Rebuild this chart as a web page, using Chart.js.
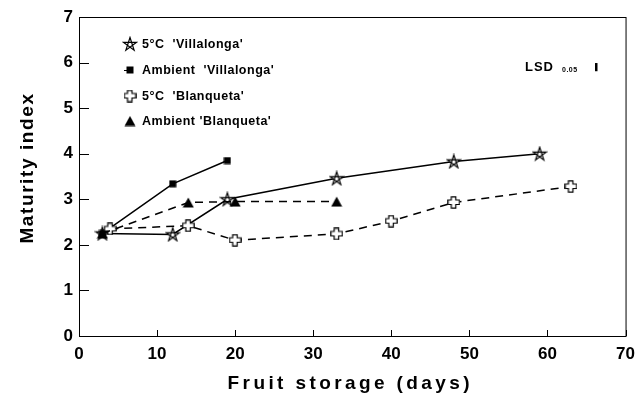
<!DOCTYPE html>
<html>
<head>
<meta charset="utf-8">
<script src="https://cdn.jsdelivr.net/npm/chart.js@4.4.1/dist/chart.umd.min.js"></script>
<style>
  html, body { margin: 0; padding: 0; background: #fff; }
  #wrap { width: 643px; height: 400px; position: relative; }
</style>
</head>
<body>
<div id="wrap"><canvas id="myChart"></canvas></div>
<script>
// data
var vil5Days = [3, 12, 19, 33, 48, 59];
var vil5Vals = [2.25, 2.23, 3.0, 3.46, 3.83, 4.0];
var vilAmbDays = [3, 12, 19];
var vilAmbVals = [2.25, 3.34, 3.85];
var bla5Days = [4, 14, 20, 33, 40, 48, 63];
var bla5Vals = [2.35, 2.42, 2.1, 2.24, 2.52, 2.93, 3.28];
var blaAmbDays = [3, 14, 20, 33];
var blaAmbVals = [2.25, 2.93, 2.95, 2.95];

var seriesLabels = ["5°C  'Villalonga'", "Ambient  'Villalonga'", "5°C  'Blanqueta'", "Ambient 'Blanqueta'"];
var xTicks = [0, 10, 20, 30, 40, 50, 60, 70];
var yTicks = [0, 1, 2, 3, 4, 5, 6, 7];
var lsdDay = 66.2, lsdAt = 5.9, lsdValue = 0.18;

var FONT = "'Liberation Sans', Arial, sans-serif";

function pts(xs, ys) {
  return xs.map(function (x, i) { return { x: x, y: ys[i] }; });
}

// marker images
function mk(w, h, draw) {
  var c = document.createElement('canvas');
  c.width = w; c.height = h;
  draw(c.getContext('2d'), w, h);
  return c;
}
var starImg = mk(16, 16, function (g) {
  var cx = 8, cy = 8.5, r = 7;
  g.beginPath();
  for (var i = 0; i < 5; i++) {
    var a = -Math.PI / 2 + i * 4 * Math.PI / 5;
    var px = cx + r * Math.cos(a), py = cy + r * Math.sin(a);
    if (i === 0) g.moveTo(px, py); else g.lineTo(px, py);
  }
  g.closePath();
  g.fillStyle = '#fff'; g.fill('nonzero');
  g.strokeStyle = '#000'; g.lineWidth = 1.2; g.stroke();
});
var squareImg = mk(8, 8, function (g) { g.fillStyle = '#000'; g.fillRect(0.5, 0.5, 7, 7); });
var triImg = mk(12, 11, function (g) {
  g.beginPath(); g.moveTo(6, 0.5); g.lineTo(11.5, 10.5); g.lineTo(0.5, 10.5); g.closePath();
  g.fillStyle = '#000'; g.fill();
});
var crossImg = mk(13, 13, function (g) {
  var a = 4, b = 8.5, e = 0.8, f = 12.2;
  g.beginPath();
  g.moveTo(a, e); g.lineTo(b, e); g.lineTo(b, a); g.lineTo(f, a); g.lineTo(f, b); g.lineTo(b, b);
  g.lineTo(b, f); g.lineTo(a, f); g.lineTo(a, b); g.lineTo(e, b); g.lineTo(e, a); g.lineTo(a, a);
  g.closePath();
  g.fillStyle = '#fff'; g.fill();
  g.strokeStyle = '#000'; g.lineWidth = 1.2; g.stroke();
});

var styles = [starImg, squareImg, crossImg, triImg];

// legend, LSD note, inward ticks, frame and letter-spaced axis titles
var extras = {
  id: 'extras',
  afterDraw: function (chart) {
    var ctx = chart.ctx, a = chart.chartArea;
    var xs = chart.scales.x, ys = chart.scales.y;
    ctx.save();
    ctx.strokeStyle = '#000';
    ctx.lineWidth = 1;
    ctx.strokeRect(a.left + 0.5, a.top + 0.5, a.right - a.left, a.bottom - a.top);
    ctx.beginPath();
    yTicks.forEach(function (v) {
      var y = Math.round(ys.getPixelForValue(v)) + 0.5;
      ctx.moveTo(a.left, y); ctx.lineTo(a.left + 10, y);
    });
    xTicks.forEach(function (v) {
      var x = Math.round(xs.getPixelForValue(v)) + 0.5;
      ctx.moveTo(x, a.bottom); ctx.lineTo(x, a.bottom - 6);
    });
    ctx.stroke();

    // legend
    var rows = [44, 70, 96, 121];
    ctx.fillStyle = '#000';
    ctx.font = 'bold 12.5px ' + FONT;
    ctx.textBaseline = 'middle';
    ctx.textAlign = 'left';
    ctx.letterSpacing = '0.5px';
    seriesLabels.forEach(function (t, i) {
      var img = styles[i];
      if (i === 1) {
        ctx.beginPath();
        ctx.moveTo(124, rows[i] + 0.5); ctx.lineTo(131, rows[i] + 0.5);
        ctx.stroke();
      }
      ctx.drawImage(img, 130 - img.width / 2, rows[i] - img.height / 2);
      ctx.fillText(t, 142, rows[i] + 1);
    });

    // LSD
    ctx.font = 'bold 13px ' + FONT;
    ctx.letterSpacing = '1px';
    ctx.fillText('LSD', 525, 67);
    ctx.font = 'bold 7px ' + FONT;
    ctx.letterSpacing = '0.5px';
    ctx.fillText('0.05', 562, 70);
    var bx = Math.round(xs.getPixelForValue(lsdDay));
    var y1 = ys.getPixelForValue(lsdAt + lsdValue / 2), y2 = ys.getPixelForValue(lsdAt - lsdValue / 2);
    ctx.fillRect(bx - 1, y1, 2.5, y2 - y1);

    // axis titles
    ctx.textAlign = 'center';
    ctx.font = 'bold 19px ' + FONT;
    ctx.letterSpacing = '3.4px';
    ctx.fillText('Fruit storage (days)', (a.left + a.right) / 2 - 2, 384);
    ctx.save();
    ctx.translate(28, 168);
    ctx.rotate(-Math.PI / 2);
    ctx.letterSpacing = '1.6px';
    ctx.fillText('Maturity index', 0, 0);
    ctx.restore();
    ctx.restore();
  }
};

function ds(label, xs, ys, style, dashed) {
  return {
    label: label,
    data: pts(xs, ys),
    borderColor: '#000',
    backgroundColor: '#000',
    borderWidth: 1.5,
    borderDash: dashed ? [8, 6] : [],
    pointStyle: style,
    pointRadius: 6,
    pointHoverRadius: 6,
    fill: false,
    tension: 0
  };
}

var ctx = document.getElementById('myChart').getContext('2d');
var myChart = new Chart(ctx, {
  type: 'line',
  data: {
    datasets: [
      ds(seriesLabels[3], blaAmbDays, blaAmbVals, triImg, true),
      ds(seriesLabels[2], bla5Days, bla5Vals, crossImg, true),
      ds(seriesLabels[1], vilAmbDays, vilAmbVals, squareImg, false),
      ds(seriesLabels[0], vil5Days, vil5Vals, starImg, false)
    ]
  },
  options: {
    responsive: true,
    maintainAspectRatio: false,
    animation: false,
    layout: { padding: { top: 17, right: 13, left: 0, bottom: 0 } },
    plugins: {
      legend: { display: false },
      tooltip: { enabled: false }
    },
    scales: {
      x: {
        type: 'linear',
        min: 0, max: 70,
        afterFit: function (s) { s.height = 64; },
        afterBuildTicks: function (s) { s.ticks = xTicks.map(function (v) { return { value: v }; }); },
        grid: { display: false, drawTicks: false },
        border: { display: false },
        ticks: { color: '#000', padding: 8, font: { family: FONT, size: 17, weight: 'bold' } }
      },
      y: {
        min: 0, max: 7,
        afterFit: function (s) { s.width = 79; },
        afterBuildTicks: function (s) { s.ticks = yTicks.map(function (v) { return { value: v }; }); },
        grid: { display: false, drawTicks: false },
        border: { display: false },
        ticks: { color: '#000', padding: 6, font: { family: FONT, size: 17, weight: 'bold' } }
      }
    }
  },
  plugins: [extras]
});
</script>
</body>
</html>
